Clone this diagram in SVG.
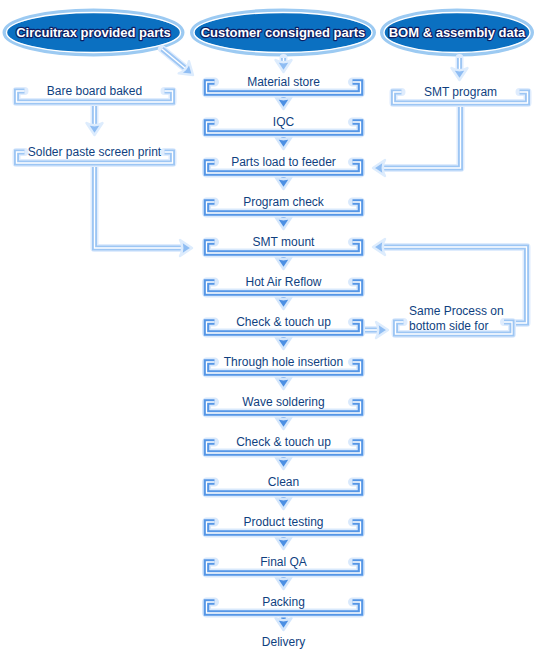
<svg xmlns="http://www.w3.org/2000/svg" xmlns:xlink="http://www.w3.org/1999/xlink" width="537" height="649" viewBox="0 0 537 649">
<style>
.pale{fill:none;stroke:#d9e9fc;stroke-width:9;stroke-linejoin:round;stroke-linecap:round}
.spale{fill:none;stroke:#dfecfd;stroke-width:8;stroke-linejoin:round;stroke-linecap:round}
.mblue{fill:none;stroke:#5596e6;stroke-width:5.5;stroke-linejoin:miter}
.sblue{fill:none;stroke:#9dc6f4;stroke-width:5;stroke-linejoin:miter}
.gap{fill:none;stroke:#ffffff;stroke-width:1.3;stroke-linejoin:miter}
.mshaft{fill:none;stroke:#4b8fe3;stroke-width:4.5}
.mshaftp{fill:none;stroke:#d6e8fc;stroke-width:8.5}
.mhead{fill:#4b8fe3;stroke:#d3e6fc;stroke-width:2.4;stroke-linejoin:round}
.shead{fill:#8fbdf3;stroke:#ddecfd;stroke-width:2.4;stroke-linejoin:round}
.lbl{font-family:"Liberation Sans",Arial,sans-serif;font-size:12px;fill:#0f3f7f}
.mid{text-anchor:middle}
.ell{fill:#0b70c1;stroke:#9ccaf2;stroke-width:4}
.ellin{fill:none;stroke:#ffffff;stroke-width:1.4}
.etxt{font-family:"Liberation Sans",Arial,sans-serif;font-size:13px;font-weight:bold;fill:#ffffff;stroke:#0d1f64;stroke-width:2.4;stroke-linejoin:round;paint-order:stroke;text-anchor:middle}
</style>
<defs>
<path id="bp" d="M8,0 H0 V11 H154 V0 H146"/>
<g id="mb">
<use xlink:href="#bp" class="pale"/>
<use xlink:href="#bp" class="mblue"/>
<use xlink:href="#bp" class="gap"/>
</g>
<path id="ah" d="M0,0 L-8,-12 Q0,-7.5 8,-12 Z"/>
<path id="bb" d="M24.5,91 H16.5 V102 H172.5 V91 H164.5"/>
<path id="sp" d="M24.5,152 H16.5 V163 H172.5 V152 H164.5"/>
<path id="spg" d="M401.5,92 H393.5 V103 H527.5 V92 H519.5"/>
<path id="sm" d="M403.5,322 H395.5 V334 H512 V322 H504"/>
<path id="side-shafts" d="M162,49 L185,68 M283.5,58 V63 M459.5,58 V70 M94.5,102 V125 M94.5,163 V248 H182 M460.5,103 V168 H383 M361,330 H378 M512,323 H526.5 V247 H383"/>
<path id="main-shafts" d="M283.5,93 V100 M283.5,133 V140 M283.5,173 V180 M283.5,213 V220 M283.5,253 V260 M283.5,293 V300 M283.5,333 V340 M283.5,373 V380 M283.5,413 V420 M283.5,453 V460 M283.5,493 V500 M283.5,533 V540 M283.5,573 V580 M283.5,613 V620"/>
</defs>
<rect width="537" height="649" fill="#ffffff"/>

<g id="n-circuitrax">
<ellipse class="ell" cx="93.5" cy="32.5" rx="89" ry="22"/>
<ellipse class="ellin" cx="93.5" cy="32.5" rx="87" ry="20"/>
<text class="etxt" x="93.5" y="37">Circuitrax provided parts</text>
</g>
<g id="n-customer">
<ellipse class="ell" cx="283" cy="32.5" rx="91" ry="22"/>
<ellipse class="ellin" cx="283" cy="32.5" rx="89" ry="20"/>
<text class="etxt" x="283" y="37">Customer consigned parts</text>
</g>
<g id="n-bom">
<ellipse class="ell" cx="457" cy="32.5" rx="75" ry="22"/>
<ellipse class="ellin" cx="457" cy="32.5" rx="73" ry="20"/>
<text class="etxt" x="457" y="37">BOM &amp; assembly data</text>
</g>

<g id="connectors">
<use xlink:href="#side-shafts" class="spale"/>
<use xlink:href="#side-shafts" class="sblue"/>
<use xlink:href="#side-shafts" class="gap"/>
<use xlink:href="#main-shafts" class="mshaftp"/>
<use xlink:href="#main-shafts" class="mshaft"/>
<use xlink:href="#ah" class="shead" transform="translate(193,75) rotate(-50)"/>
<use xlink:href="#ah" class="shead" transform="translate(283.5,72)"/>
<use xlink:href="#ah" class="shead" transform="translate(459.5,80)"/>
<use xlink:href="#ah" class="shead" transform="translate(94.5,135)"/>
<use xlink:href="#ah" class="shead" transform="translate(192,248) rotate(-90)"/>
<use xlink:href="#ah" class="shead" transform="translate(373,168) rotate(90)"/>
<use xlink:href="#ah" class="shead" transform="translate(388,330) rotate(-90)"/>
<use xlink:href="#ah" class="shead" transform="translate(373,247) rotate(90)"/>
<use xlink:href="#ah" class="mhead" transform="translate(283.5,109)"/>
<use xlink:href="#ah" class="mhead" transform="translate(283.5,149)"/>
<use xlink:href="#ah" class="mhead" transform="translate(283.5,189)"/>
<use xlink:href="#ah" class="mhead" transform="translate(283.5,229)"/>
<use xlink:href="#ah" class="mhead" transform="translate(283.5,269)"/>
<use xlink:href="#ah" class="mhead" transform="translate(283.5,309)"/>
<use xlink:href="#ah" class="mhead" transform="translate(283.5,349)"/>
<use xlink:href="#ah" class="mhead" transform="translate(283.5,389)"/>
<use xlink:href="#ah" class="mhead" transform="translate(283.5,429)"/>
<use xlink:href="#ah" class="mhead" transform="translate(283.5,469)"/>
<use xlink:href="#ah" class="mhead" transform="translate(283.5,509)"/>
<use xlink:href="#ah" class="mhead" transform="translate(283.5,549)"/>
<use xlink:href="#ah" class="mhead" transform="translate(283.5,589)"/>
<use xlink:href="#ah" class="mhead" transform="translate(283.5,630)"/>
</g>

<g id="n-bare">
<use xlink:href="#bb" class="spale"/>
<use xlink:href="#bb" class="sblue"/>
<use xlink:href="#bb" class="gap"/>
<text class="lbl mid" x="94.5" y="95">Bare board baked</text>
</g>
<g id="n-solder">
<use xlink:href="#sp" class="spale"/>
<use xlink:href="#sp" class="sblue"/>
<use xlink:href="#sp" class="gap"/>
<text class="lbl mid" x="94.5" y="156">Solder paste screen print</text>
</g>
<g id="n-smtprog">
<use xlink:href="#spg" class="spale"/>
<use xlink:href="#spg" class="sblue"/>
<use xlink:href="#spg" class="gap"/>
<text class="lbl mid" x="460.5" y="96">SMT program</text>
</g>
<g id="n-same">
<use xlink:href="#sm" class="spale"/>
<use xlink:href="#sm" class="sblue"/>
<use xlink:href="#sm" class="gap"/>
<text class="lbl" x="409" y="315">Same Process on</text>
<text class="lbl" x="409" y="330">bottom side for</text>
</g>

<g id="s00"><use xlink:href="#mb" x="206.5" y="82"/><text class="lbl mid" x="283.5" y="86">Material store</text></g>
<g id="s01"><use xlink:href="#mb" x="206.5" y="122"/><text class="lbl mid" x="283.5" y="126">IQC</text></g>
<g id="s02"><use xlink:href="#mb" x="206.5" y="162"/><text class="lbl mid" x="283.5" y="166">Parts load to feeder</text></g>
<g id="s03"><use xlink:href="#mb" x="206.5" y="202"/><text class="lbl mid" x="283.5" y="206">Program check</text></g>
<g id="s04"><use xlink:href="#mb" x="206.5" y="242"/><text class="lbl mid" x="283.5" y="246">SMT mount</text></g>
<g id="s05"><use xlink:href="#mb" x="206.5" y="282"/><text class="lbl mid" x="283.5" y="286">Hot Air Reflow</text></g>
<g id="s06"><use xlink:href="#mb" x="206.5" y="322"/><text class="lbl mid" x="283.5" y="326">Check &amp; touch up</text></g>
<g id="s07"><use xlink:href="#mb" x="206.5" y="362"/><text class="lbl mid" x="283.5" y="366">Through hole insertion</text></g>
<g id="s08"><use xlink:href="#mb" x="206.5" y="402"/><text class="lbl mid" x="283.5" y="406">Wave soldering</text></g>
<g id="s09"><use xlink:href="#mb" x="206.5" y="442"/><text class="lbl mid" x="283.5" y="446">Check &amp; touch up</text></g>
<g id="s10"><use xlink:href="#mb" x="206.5" y="482"/><text class="lbl mid" x="283.5" y="486">Clean</text></g>
<g id="s11"><use xlink:href="#mb" x="206.5" y="522"/><text class="lbl mid" x="283.5" y="526">Product testing</text></g>
<g id="s12"><use xlink:href="#mb" x="206.5" y="562"/><text class="lbl mid" x="283.5" y="566">Final QA</text></g>
<g id="s13"><use xlink:href="#mb" x="206.5" y="602"/><text class="lbl mid" x="283.5" y="606">Packing</text></g>
<g id="s14"><text class="lbl mid" x="283.5" y="646">Delivery</text></g>
</svg>
